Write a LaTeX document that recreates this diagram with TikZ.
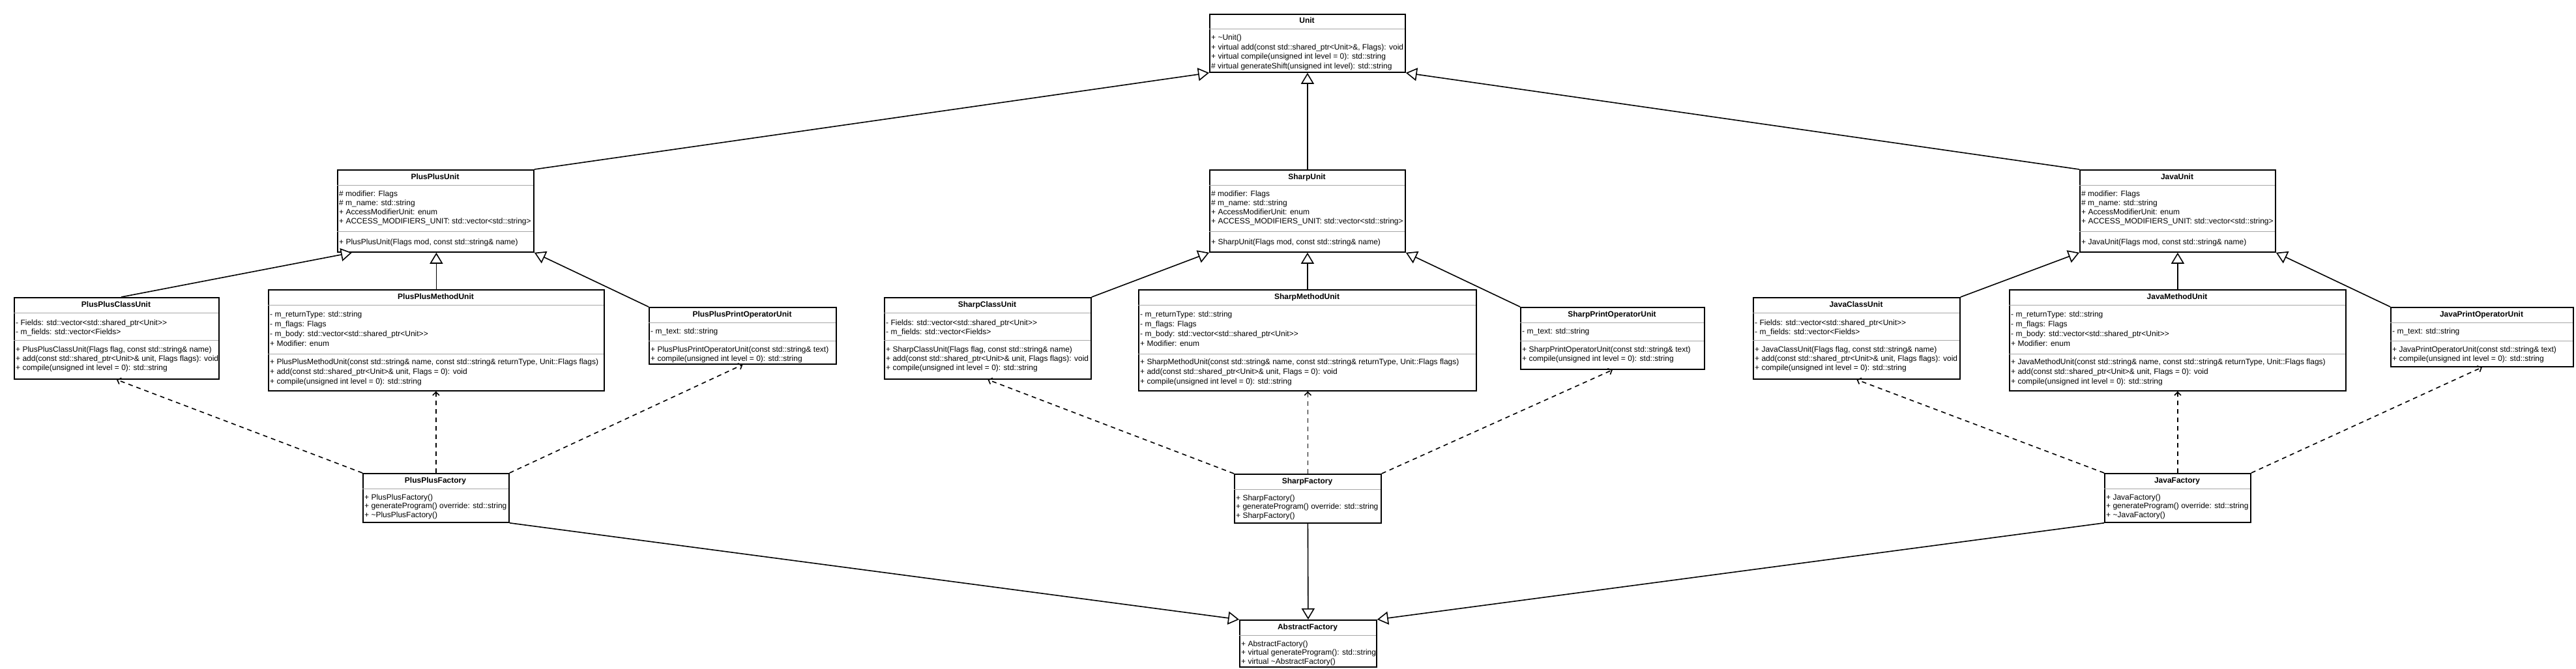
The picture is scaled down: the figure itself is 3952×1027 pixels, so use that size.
\documentclass[tikz,border=0pt]{standalone}
\usepackage{fontspec}
\setmainfont{Liberation Sans}
\usetikzlibrary{arrows.meta,calc}

\tikzset{
  clsbox/.style={draw=black, line width=1.8pt, fill=white, inner sep=0pt, rectangle},
  sepline/.style={draw=black!35, line width=1pt},
  txt/.style={anchor=west, inner sep=0pt, font=\fontsize{12}{14}\selectfont, text height=9pt, text depth=3pt},
  ttl/.style={anchor=center, inner sep=0pt, font=\fontsize{12}{14}\selectfont\bfseries, text height=9pt, text depth=3pt},
  inh/.style={line width=1.6pt, -{Triangle[fill=white, length=17pt, width=20pt]}},
  dep/.style={line width=1.6pt, dash pattern=on 7pt off 6pt, -{Straight Barb[length=5pt, width=10pt]}},
}

% name, x1, y1, x2, y2, title
\newcommand\umlbox[6]{%
  \node[clsbox, anchor=north west, minimum width={(#4-#2)*1pt}, minimum height={(#5-#3)*1pt}] (#1) at (#2,#3) {};
  \node[ttl] (#1-title) at ({(#2+#4)/2},{#3+12}) {#6};
  \draw[sepline] (#2,{#3+24}) -- (#4,{#3+24});
}
% x1, x2, y
\newcommand\umlsep[3]{\draw[sepline] (#1,#3) -- (#2,#3);}
% prefix, x, y0, step, list
\newcommand\umlmembers[5]{%
  \foreach \mtext [count=\i from 0] in {#5} {\node[txt] (#1-\i) at ({#2+3},{#3+\i*#4}) {\mtext};}
}

\begin{document}
\begin{tikzpicture}[x=1pt,y=-1pt]
\useasboundingbox[fill=white] (0,0) rectangle (3952,1027);

% ---------------- Unit
\umlbox{unit}{1855}{21}{2155}{110}{Unit}
\umlmembers{unit-o}{1855}{59}{14.5}{{+ \textasciitilde Unit()},{+ virtual add(const std::shared\_ptr<Unit>\&, Flags): void},{+ virtual compile(unsigned int level = 0): std::string},{\# virtual generateShift(unsigned int level): std::string}}

% ---------------- parent units
\umlbox{ppu}{517}{260}{818}{386}{PlusPlusUnit}
\umlmembers{ppu-a}{517}{298}{14}{{\# modifier: Flags},{\# m\_name: std::string},{+ AccessModifierUnit: enum},{+ ACCESS\_MODIFIERS\_UNIT: std::vector<std::string>}}
\umlsep{517}{818}{355}
\umlmembers{ppu-o}{517}{372}{14}{{+ PlusPlusUnit(Flags mod, const std::string\& name)}}

\umlbox{shu}{1855}{260}{2155}{386}{SharpUnit}
\umlmembers{shu-a}{1855}{298}{14}{{\# modifier: Flags},{\# m\_name: std::string},{+ AccessModifierUnit: enum},{+ ACCESS\_MODIFIERS\_UNIT: std::vector<std::string>}}
\umlsep{1855}{2155}{355}
\umlmembers{shu-o}{1855}{372}{14}{{+ SharpUnit(Flags mod, const std::string\& name)}}

\umlbox{jvu}{3190}{260}{3490}{386}{JavaUnit}
\umlmembers{jvu-a}{3190}{298}{14}{{\# modifier: Flags},{\# m\_name: std::string},{+ AccessModifierUnit: enum},{+ ACCESS\_MODIFIERS\_UNIT: std::vector<std::string>}}
\umlsep{3190}{3490}{355}
\umlmembers{jvu-o}{3190}{372}{14}{{+ JavaUnit(Flags mod, const std::string\& name)}}

% ---------------- class units
\umlbox{ppc}{21}{456}{335}{581}{PlusPlusClassUnit}
\umlmembers{ppc-a}{21}{496}{14}{{- Fields: std::vector<std::shared\_ptr<Unit>{}>},{- m\_fields: std::vector<Fields>}}
\umlsep{21}{335}{522}
\umlmembers{ppc-o}{21}{537}{14}{{+ PlusPlusClassUnit(Flags flag, const std::string\& name)},{+ add(const std::shared\_ptr<Unit>\& unit, Flags flags): void},{+ compile(unsigned int level = 0): std::string}}

\umlbox{shc}{1356}{456}{1673}{581}{SharpClassUnit}
\umlmembers{shc-a}{1356}{496}{14}{{- Fields: std::vector<std::shared\_ptr<Unit>{}>},{- m\_fields: std::vector<Fields>}}
\umlsep{1356}{1673}{522}
\umlmembers{shc-o}{1356}{537}{14}{{+ SharpClassUnit(Flags flag, const std::string\& name)},{+ add(const std::shared\_ptr<Unit>\& unit, Flags flags): void},{+ compile(unsigned int level = 0): std::string}}

\umlbox{jvc}{2689}{456}{3006}{581}{JavaClassUnit}
\umlmembers{jvc-a}{2689}{496}{14}{{- Fields: std::vector<std::shared\_ptr<Unit>{}>},{- m\_fields: std::vector<Fields>}}
\umlsep{2689}{3006}{522}
\umlmembers{jvc-o}{2689}{537}{14}{{+ JavaClassUnit(Flags flag, const std::string\& name)},{+ add(const std::shared\_ptr<Unit>\& unit, Flags flags): void},{+ compile(unsigned int level = 0): std::string}}

% ---------------- method units
\umlbox{ppm}{411}{444}{926}{599}{PlusPlusMethodUnit}
\umlmembers{ppm-a}{411}{483}{15}{{- m\_returnType: std::string},{- m\_flags: Flags},{- m\_body: std::vector<std::shared\_ptr<Unit>{}>},{+ Modifier: enum}}
\umlsep{411}{926}{543}
\umlmembers{ppm-o}{411}{556}{15}{{+ PlusPlusMethodUnit(const std::string\& name, const std::string\& returnType, Unit::Flags flags)},{+ add(const std::shared\_ptr<Unit>\& unit, Flags = 0): void},{+ compile(unsigned int level = 0): std::string}}

\umlbox{shm}{1746}{444}{2264}{599}{SharpMethodUnit}
\umlmembers{shm-a}{1746}{483}{15}{{- m\_returnType: std::string},{- m\_flags: Flags},{- m\_body: std::vector<std::shared\_ptr<Unit>{}>},{+ Modifier: enum}}
\umlsep{1746}{2264}{543}
\umlmembers{shm-o}{1746}{556}{15}{{+ SharpMethodUnit(const std::string\& name, const std::string\& returnType, Unit::Flags flags)},{+ add(const std::shared\_ptr<Unit>\& unit, Flags = 0): void},{+ compile(unsigned int level = 0): std::string}}

\umlbox{jvm}{3082}{444}{3598}{599}{JavaMethodUnit}
\umlmembers{jvm-a}{3082}{483}{15}{{- m\_returnType: std::string},{- m\_flags: Flags},{- m\_body: std::vector<std::shared\_ptr<Unit>{}>},{+ Modifier: enum}}
\umlsep{3082}{3598}{543}
\umlmembers{jvm-o}{3082}{556}{15}{{+ JavaMethodUnit(const std::string\& name, const std::string\& returnType, Unit::Flags flags)},{+ add(const std::shared\_ptr<Unit>\& unit, Flags = 0): void},{+ compile(unsigned int level = 0): std::string}}

% ---------------- print operator units
\umlbox{ppp}{995}{471}{1282}{558}{PlusPlusPrintOperatorUnit}
\umlmembers{ppp-a}{995}{509}{14}{{- m\_text: std::string}}
\umlsep{995}{1282}{523}
\umlmembers{ppp-o}{995}{537}{14}{{+ PlusPlusPrintOperatorUnit(const std::string\& text)},{+ compile(unsigned int level = 0): std::string}}

\umlbox{shp}{2332}{471}{2614}{566}{SharpPrintOperatorUnit}
\umlmembers{shp-a}{2332}{509}{14}{{- m\_text: std::string}}
\umlsep{2332}{2614}{523}
\umlmembers{shp-o}{2332}{537}{14}{{+ SharpPrintOperatorUnit(const std::string\& text)},{+ compile(unsigned int level = 0): std::string}}

\umlbox{jvp}{3667}{471}{3947}{562}{JavaPrintOperatorUnit}
\umlmembers{jvp-a}{3667}{509}{14}{{- m\_text: std::string}}
\umlsep{3667}{3947}{523}
\umlmembers{jvp-o}{3667}{537}{14}{{+ JavaPrintOperatorUnit(const std::string\& text)},{+ compile(unsigned int level = 0): std::string}}

% ---------------- factories
\umlbox{ppf}{556}{726}{780}{801}{PlusPlusFactory}
\umlmembers{ppf-o}{556}{764}{13.5}{{+ PlusPlusFactory()},{+ generateProgram() override: std::string},{+ \textasciitilde PlusPlusFactory()}}

\umlbox{shf}{1893}{727}{2118}{802}{SharpFactory}
\umlmembers{shf-o}{1893}{765}{13.5}{{+ SharpFactory()},{+ generateProgram() override: std::string},{+ SharpFactory()}}

\umlbox{jvf}{3228}{726}{3452}{801}{JavaFactory}
\umlmembers{jvf-o}{3228}{764}{13.5}{{+ JavaFactory()},{+ generateProgram() override: std::string},{+ \textasciitilde JavaFactory()}}

\umlbox{af}{1901}{951}{2111}{1023}{AbstractFactory}
\umlmembers{af-o}{1901}{989}{13.5}{{+ AbstractFactory()},{+ virtual generateProgram(): std::string},{+ virtual \textasciitilde AbstractFactory()}}

% ---------------- inheritance
\draw[inh] (ppu.north east) -- (unit.south west);
\draw[inh] (shu.north) -- (unit.south);
\draw[inh] (jvu.north west) -- (unit.south east);

\draw[inh] ($(ppc.north)+(7,0)$) -- ($(ppu.south west)+(23,0)$);
\draw[inh] (ppm.north) -- (ppm.north |- ppu.south);
\draw[inh] (ppp.north west) -- (ppu.south east);

\draw[inh] (shc.north east) -- (shu.south west);
\draw[inh] (shm.north) -- (shm.north |- shu.south);
\draw[inh] (shp.north west) -- (shu.south east);

\draw[inh] (jvc.north east) -- (jvu.south west);
\draw[inh] (jvm.north) -- (jvm.north |- jvu.south);
\draw[inh] (jvp.north west) -- (jvu.south east);

\draw[inh] (ppf.south east) -- (af.north west);
\draw[inh] (shf.south) -- (af.north);
\draw[inh] (jvf.south west) -- (af.north east);

% ---------------- dependencies
\draw[dep] (ppf.north west) -- (ppc.south);
\draw[dep] (ppf.north) -- (ppf.north |- ppm.south);
\draw[dep] (ppf.north east) -- (ppp.south);

\draw[dep] (shf.north west) -- (shc.south);
\draw[dep] (shf.north) -- (shf.north |- shm.south);
\draw[dep] (shf.north east) -- (shp.south);

\draw[dep] (jvf.north west) -- (jvc.south);
\draw[dep] (jvf.north) -- (jvf.north |- jvm.south);
\draw[dep] (jvf.north east) -- (jvp.south);
\end{tikzpicture}
\end{document}
